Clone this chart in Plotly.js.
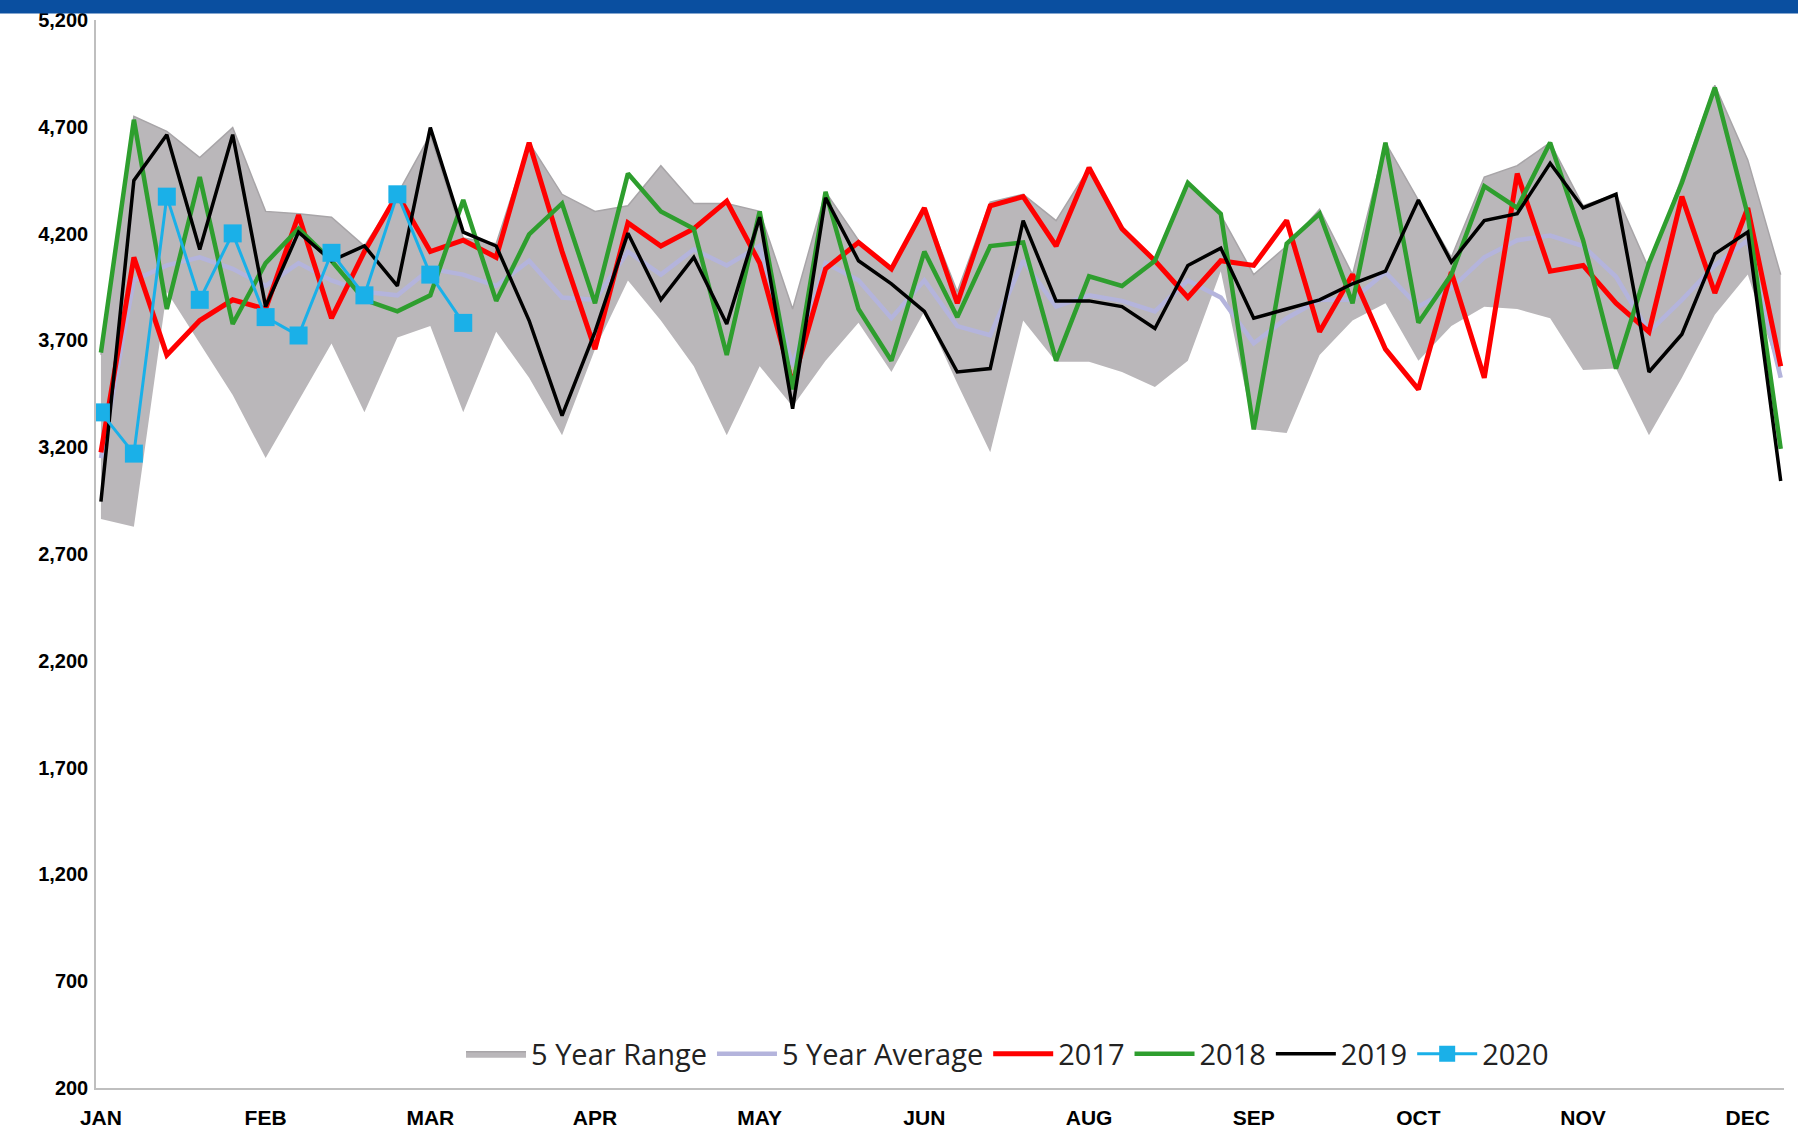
<!DOCTYPE html>
<html><head><meta charset="utf-8">
<script src="https://cdn.plot.ly/plotly-3.0.1.min.js"></script>
<style>html,body{margin:0;padding:0;background:#fff}#c{width:1798px;height:1133px}</style>
</head><body><div id="c"></div>
<script>
const weeks = Array.from({length:52},(_,i)=>i+1);
const monthTicks = [1,6,11,16,21,26,31,36,41,46,51];
const monthLabels = ["JAN","FEB","MAR","APR","MAY","JUN","AUG","SEP","OCT","NOV","DEC"];
const rangeUpper = [3632,4749,4679,4556,4696,4304,4293,4277,4142,4384,4663,4180,4153,4626,4384,4304,4330,4518,4341,4341,4304,3847,4395,4169,4035,4320,3928,4347,4384,4261,4508,4234,4073,4438,4287,4008,4142,4314,4008,4626,4357,4089,4465,4518,4626,4330,4384,4035,4465,4894,4545,4008];
const rangeLower = [2864,2827,3928,3686,3444,3149,3418,3686,3364,3713,3767,3364,3740,3525,3256,3659,3981,3793,3579,3256,3579,3391,3605,3783,3552,3836,3498,3176,3793,3600,3600,3552,3482,3605,4024,3283,3267,3632,3793,3874,3605,3767,3858,3847,3804,3562,3568,3256,3525,3820,4008,3530];
const avg5 = [3149,3981,4051,4089,4035,3955,4062,3981,3928,3911,4035,4008,3955,4073,3901,3890,4116,4008,4126,4051,4142,3579,4062,3981,3804,3981,3767,3724,4073,3858,3911,3885,3836,3981,3901,3686,3804,3890,3890,4019,3858,3944,4089,4169,4191,4142,3998,3740,3890,4051,4169,3525];
const y2017 = [3176,4089,3632,3793,3890,3847,4287,3804,4116,4384,4116,4169,4089,4626,4116,3659,4250,4142,4223,4352,4062,3498,4035,4159,4035,4320,3874,4330,4373,4142,4508,4223,4073,3901,4073,4051,4261,3740,4008,3659,3471,4019,3525,4481,4024,4051,3874,3740,4373,3922,4320,3579];
const y2018 = [3643,4733,3847,4465,3777,4062,4223,4073,3890,3836,3911,4357,3885,4196,4341,3874,4481,4304,4223,3632,4304,3471,4395,3847,3605,4116,3809,4142,4159,3605,4000,3955,4073,4438,4293,3283,4153,4293,3874,4626,3783,4008,4422,4320,4626,4169,3568,4062,4438,4884,4287,3192];
const y2019 = [2945,4449,4663,4126,4663,3858,4207,4073,4142,3955,4696,4207,4142,3793,3348,3740,4202,3890,4089,3777,4277,3380,4368,4073,3965,3836,3552,3568,4261,3885,3885,3858,3756,4051,4132,3804,3847,3890,3965,4024,4357,4067,4261,4293,4529,4320,4384,3552,3729,4105,4207,3042];
const y2020 = [3363,3170,4373,3890,4201,3809,3723,4110,3911,4384,4008,3782];
const yTicks = [200,700,1200,1700,2200,2700,3200,3700,4200,4700,5200];

const traces = [
 {x:weeks,y:rangeLower,mode:'lines',line:{width:0,color:'rgba(0,0,0,0)'},showlegend:false,hoverinfo:'skip'},
 {x:weeks,y:rangeUpper,mode:'lines',fill:'tonexty',fillcolor:'#bab7ba',line:{width:1.5,color:'#a8a5a8'},name:'5 Year Range'},
 {x:weeks,y:avg5,mode:'lines',line:{color:'#b4b4dc',width:4.5},name:'5 Year Average'},
 {x:weeks,y:y2017,mode:'lines',line:{color:'#ff0000',width:5},name:'2017'},
 {x:weeks,y:y2018,mode:'lines',line:{color:'#2e9e2e',width:4.5},name:'2018'},
 {x:weeks,y:y2019,mode:'lines',line:{color:'#000000',width:3.5},name:'2019'},
 {x:weeks.slice(0,y2020.length),y:y2020,mode:'lines+markers',line:{color:'#1ab0e8',width:3},marker:{symbol:'square',size:18,color:'#1ab0e8'},name:'2020'}
];
const layout = {
 width:1798,height:1133,paper_bgcolor:'#fff',plot_bgcolor:'#fff',
 margin:{l:96,r:14,t:20,b:45},
 font:{family:'Liberation Sans, Arial',color:'#000'},
 xaxis:{range:[0.85,52.1],tickvals:monthTicks,ticktext:monthLabels,showgrid:false,zeroline:false,
   showline:true,linecolor:'#bfbfbf',linewidth:1.5,ticks:'',ticklabelstandoff:10,tickfont:{size:21,family:'Liberation Sans, Arial',weight:'bold'}},
 yaxis:{range:[200,5200],tickvals:yTicks,tickformat:',',showgrid:false,zeroline:false,
   showline:true,linecolor:'#bfbfbf',linewidth:1.5,ticks:'',ticklabelstandoff:2,tickfont:{size:20,family:'Liberation Sans, Arial',weight:'bold'}},
 showlegend:true,
 legend:{orientation:'h',x:0.54,xanchor:'center',y:0.032,yanchor:'middle',bgcolor:'rgba(0,0,0,0)',font:{size:29,family:'Open Sans, Liberation Sans',color:'#222'},itemwidth:60,tracegroupgap:0,traceorder:'normal'},
 shapes:[{type:'rect',xref:'paper',yref:'paper',x0:-0.06,x1:1.01,y0:1.006,y1:1.021,fillcolor:'#0a4fa0',line:{width:0}}]
};
Plotly.newPlot('c',traces,layout,{displayModeBar:false});
</script></body></html>
